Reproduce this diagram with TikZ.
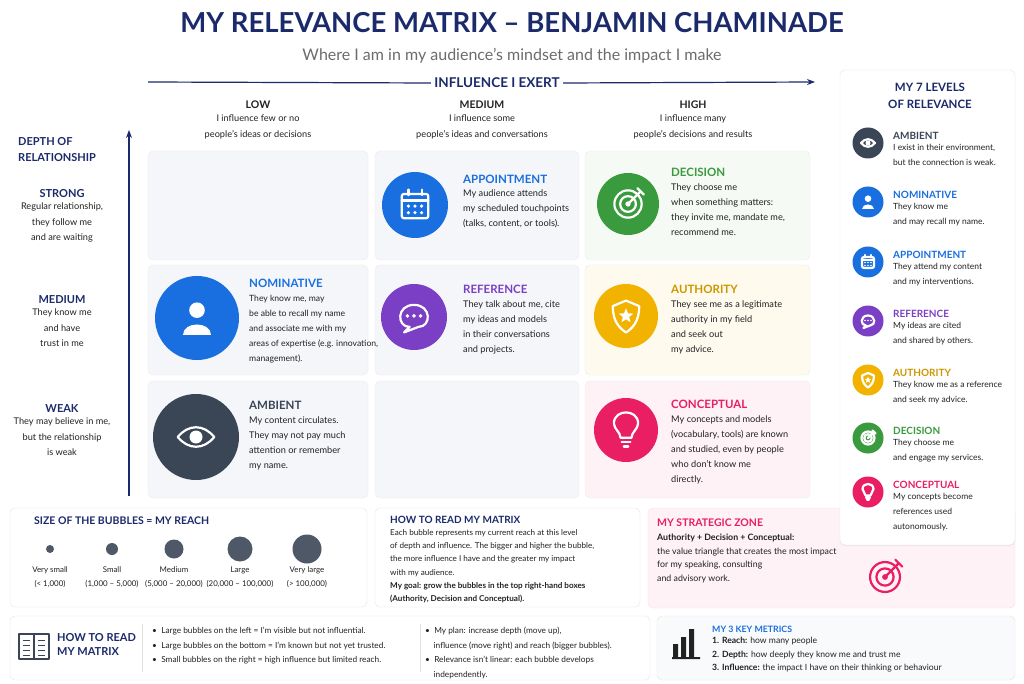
\documentclass[tikz,border=0pt]{standalone}
\usepackage{fontspec}
\setmainfont{Lato}
\usetikzlibrary{arrows.meta,shadows}
\definecolor{navy}{HTML}{1B2A6B}
\definecolor{cblue}{HTML}{1A6FE0}
\definecolor{cdark}{HTML}{3A4556}
\definecolor{cpurp}{HTML}{7B3FC6}
\definecolor{cgreen}{HTML}{3A9A3E}
\definecolor{cyel}{HTML}{F2B200}
\definecolor{cpink}{HTML}{E91E63}
\definecolor{cellbg}{HTML}{F4F6F9}
\definecolor{tgray}{HTML}{222222}
\tikzset{
 cell/.style={draw=gray!15,fill=cellbg,rounded corners=5pt},
 box/.style={draw=gray!20,fill=white,rounded corners=5pt},
 body/.style={anchor=north west,align=left,font=\fontsize{9.2}{15}\selectfont,text=tgray,inner sep=0},
 ttl/.style={anchor=west,font=\fontsize{11.5}{13}\selectfont\bfseries,inner sep=0},
 ctr/.style={align=center,font=\fontsize{9.2}{15.5}\selectfont,text=tgray,inner sep=0},
 ico/.style={circle,inner sep=0,minimum size=#1},
 wl/.style={white,line width=2.2pt,line cap=round,line join=round},
 ax/.style={navy,line width=1.2pt,-{Stealth[length=8pt,width=6pt]}},
}
\newcommand{\ieye}[2]{\begin{scope}[shift={(#1)},scale=#2]
 \draw[wl] (-14,0) .. controls (-6,-10) and (6,-10) .. (14,0) .. controls (6,10) and (-6,10) .. (-14,0);
 \fill[white] (0,0) circle (5);\end{scope}}
\newcommand{\iperson}[2]{\begin{scope}[shift={(#1)},scale=#2]
 \fill[white] (0,-6) circle (6);
 \fill[white] (-11,13) .. controls (-11,2) and (11,2) .. (11,13) -- cycle;\end{scope}}
\newcommand{\ical}[2]{\begin{scope}[shift={(#1)},scale=#2]
 \draw[wl,rounded corners=2pt] (-12,-10) rectangle (12,12);
 \draw[wl] (-12,-4)--(12,-4) (-6,-14)--(-6,-9) (6,-14)--(6,-9);
 \foreach \x in {-6,0,6}\foreach \y in {1,7}\fill[white] (\x,\y) circle (1.6);\end{scope}}
\newcommand{\ichat}[2]{\begin{scope}[shift={(#1)},scale=#2]
 \draw[wl] (0,-11) .. controls (-16,-11) and (-16,9) .. (-4,9) -- (-9,14) -- (4,9) .. controls (16,9) and (16,-11) .. (0,-11);
 \foreach \x in {-6,0,6}\fill[white] (\x,-1) circle (1.8);\end{scope}}
\newcommand{\itarget}[3]{\begin{scope}[shift={(#1)},scale=#2]
 \draw[#3,line width=2.2pt] (0,0) circle (13) (0,0) circle (7.5);\fill[#3] (0,0) circle (2.5);
 \draw[#3,line width=2.2pt,line cap=round] (0,0)--(12,-12) (9,-15)--(12,-12)--(15,-9);\end{scope}}
\newcommand{\ishield}[2]{\begin{scope}[shift={(#1)},scale=#2]
 \draw[wl] (0,-14) -- (12,-9) .. controls (12,5) and (6,11) .. (0,15) .. controls (-6,11) and (-12,5) .. (-12,-9) -- cycle;
 \fill[white] (90:-7)--(126:-3)--(162:-7)--(198:-3)--(234:-7)--(270:-3)--(306:-7)--(342:-3)--(18:-7)--(54:-3)--cycle;\end{scope}}
\newcommand{\ibulb}[2]{\begin{scope}[shift={(#1)},scale=#2]
 \draw[wl] (-5,7) .. controls (-5,2) and (-11,-1) .. (-11,-6) .. controls (-11,-13) and (-5,-16) .. (0,-16) .. controls (5,-16) and (11,-13) .. (11,-6) .. controls (11,-1) and (5,2) .. (5,7) -- cycle;
 \draw[wl] (-4,11)--(4,11) (-2,15)--(2,15);\end{scope}}
\begin{document}
\begin{tikzpicture}[x=1pt,y=-1pt]
\useasboundingbox (0,0) rectangle (1024,684);
\fill[white] (0,0) rectangle (1024,684);
% title
\node[font=\fontsize{27.5}{30}\selectfont\bfseries,text=navy] (title) at (512,23) {MY RELEVANCE MATRIX – BENJAMIN CHAMINADE};
\node[font=\fontsize{16}{18}\selectfont,text=gray!85!black] (sub) at (512,56) {Where I am in my audience’s mindset and the impact I make};
\node[font=\fontsize{13.5}{15}\selectfont\bfseries,text=navy] (infl) at (497,83) {INFLUENCE I EXERT};
\coordinate (ha) at (148,82); \coordinate (hb) at (815,82);
\draw[navy,line width=1.2pt] (ha) -- (infl.west);
\draw[ax] (infl.east) -- (hb);
% column heads
\foreach \x/\h/\d in {258/LOW/{I influence few or no\\people’s ideas or decisions},482/MEDIUM/{I influence some\\people’s ideas and conversations},693/HIGH/{I influence many\\people’s decisions and results}}{
 \node[font=\fontsize{10.5}{12}\selectfont\bfseries,text=tgray] (h\h) at (\x,105) {\h};
 \node[ctr,anchor=north] (d\h) at (\x,115) {\d};}
% vertical axis
\coordinate (va) at (129,496); \coordinate (vb) at (129,130);
\draw[ax] (va) -- (vb);
\node[anchor=north west,align=left,font=\fontsize{11}{16}\selectfont\bfseries,text=navy,inner sep=0] (dep) at (18,137) {DEPTH OF\\RELATIONSHIP};
\foreach \y/\h/\d in {194/STRONG/{Regular relationship,\\they follow me\\and are waiting},300/MEDIUM/{They know me\\and have\\trust in me},409/WEAK/{They may believe in me,\\but the relationship\\is weak}}{
 \node[font=\fontsize{11}{12}\selectfont\bfseries,text=navy] (r\h) at (62,\y) {\h};
 \node[ctr,anchor=north] (rd\h) at (62,\y+9) {\d};}
% cells
\foreach \n/\xa/\ya/\xb/\yb/\c in {a/148/151/368/260/cellbg,b/375/151/579/260/cellbg,c/585/151/810/260/cgreen!5,
 d/148/265/368/375/cellbg,e/375/265/579/375/cellbg,f/585/265/810/375/cyel!7,
 g/148/381/368/498/cellbg,h/375/381/579/498/cellbg,i/585/381/810/498/cpink!6}
 \draw[cell,fill=\c] (\xa,\ya) rectangle (\xb,\yb);
% icons
\node[ico=66pt,fill=cblue] (iapp) at (415,205) {}; \ical{iapp}{1.1}
\node[ico=62pt,fill=cgreen] (idec) at (628,204) {}; \itarget{idec}{1.05}{white}
\node[ico=84pt,fill=cblue] (inom) at (197,318) {}; \iperson{inom}{1.3}
\node[ico=66pt,fill=cpurp] (iref) at (414,317) {}; \ichat{iref}{1.1}
\node[ico=64pt,fill=cyel] (iaut) at (626,316) {}; \ishield{iaut}{1.1}
\node[ico=86pt,fill=cdark] (iamb) at (196,437) {}; \ieye{iamb}{1.3}
\node[ico=64pt,fill=cpink] (icon) at (626,430) {}; \ibulb{icon}{1.1}
% cell texts
\node[ttl,text=cblue] (tapp) at (463,179) {APPOINTMENT};
\node[body] at (463,190) {My audience attends\\my scheduled touchpoints\\(talks, content, or tools).};
\node[ttl,text=cgreen] (tdec) at (671,172) {DECISION};
\node[body] at (671,184) {They choose me\\when something matters:\\they invite me, mandate me,\\recommend me.};
\node[ttl,text=cblue] (tnom) at (249,283) {NOMINATIVE};
\node[body,font=\fontsize{8.6}{15}\selectfont] at (249,295) {They know me, may\\be able to recall my name\\and associate me with my\\areas of expertise (e.g. innovation,\\management).};
\node[ttl,text=cpurp] (tref) at (463,289) {REFERENCE};
\node[body] at (463,301) {They talk about me, cite\\my ideas and models\\in their conversations\\and projects.};
\node[ttl,text=cyel!85!black] (taut) at (671,289) {AUTHORITY};
\node[body] at (671,301) {They see me as a legitimate\\authority in my field\\and seek out\\my advice.};
\node[ttl,text=cdark] (tamb) at (249,405) {AMBIENT};
\node[body] at (249,417) {My content circulates.\\They may not pay much\\attention or remember\\my name.};
\node[ttl,text=cpink] (tcon) at (671,404) {CONCEPTUAL};
\node[body] at (671,416) {My concepts and models\\(vocabulary, tools) are known\\and studied, even by people\\who don’t know me\\directly.};
% bottom boxes
\draw[box] (10,508) rectangle (367,607);
\node[ttl,text=navy,font=\fontsize{10.5}{12}\selectfont\bfseries] (bs) at (34,521) {SIZE OF THE BUBBLES = MY REACH};
\foreach \x/\r/\a/\b in {50/4/Very small/{(< 1,000)},112/6/Small/{(1,000 – 5,000)},174/9.5/Medium/{(5,000 – 20,000)},240/12.5/Large/{(20,000 – 100,000)},307/14.5/Very large/{(> 100,000)}}{
 \fill[cdark!90] (\x,549) circle (\r);
 \node[ctr,font=\fontsize{7.9}{14}\selectfont] at (\x,577) {\a\\\b};}
\draw[box] (375,508) rectangle (640,607);
\node[ttl,text=navy,font=\fontsize{10}{12}\selectfont\bfseries] (bh) at (390,520) {HOW TO READ MY MATRIX};
\node[body,font=\fontsize{8.1}{13.3}\selectfont] at (390,529) {Each bubble represents my current reach at this level\\of depth and influence. The bigger and higher the bubble,\\the more influence I have and the greater my impact\\with my audience.\\\textbf{My goal: grow the bubbles in the top right-hand boxes}\\\textbf{(Authority, Decision and Conceptual).}};
\draw[rounded corners=5pt,draw=cpink!15,fill=cpink!6] (648,508) rectangle (1015,608);
\node[ttl,text=cpink,font=\fontsize{10.5}{12}\selectfont\bfseries] (bz) at (657,523) {MY STRATEGIC ZONE};
\node[body,font=\fontsize{8.8}{13.5}\selectfont] at (657,534) {\textbf{Authority + Decision + Conceptual:}\\the value triangle that creates the most impact\\for my speaking, consulting\\and advisory work.};
\coordinate (tz) at (885,577); \itarget{tz}{1.15}{cpink}
\draw[box] (10,616) rectangle (650,680);
\node[ttl,text=navy,font=\fontsize{11}{14}\selectfont\bfseries,align=left] (br) at (57,644) {HOW TO READ\\MY MATRIX};
\begin{scope}[shift={(34,646)}]
 \draw[cdark,line width=1.2pt,line join=round] (-15,-12) rectangle (15,13);
 \draw[cdark,line width=1.2pt] (0,-12)--(0,13);
 \foreach \y in {-6,-1,4,9}{\draw[cdark,line width=0.8pt] (-11,\y)--(-4,\y) (4,\y)--(11,\y);}
\end{scope}
\draw[gray!25] (142,624)--(142,672) (420,624)--(420,672);
\node[body,font=\fontsize{8.3}{14.5}\selectfont] at (152,627) {•\ \ Large bubbles on the left = I’m visible but not influential.\\•\ \ Large bubbles on the bottom = I’m known but not yet trusted.\\•\ \ Small bubbles on the right = high influence but limited reach.};
\node[body,font=\fontsize{8.3}{14.5}\selectfont] at (425,627) {•\ \ My plan: increase depth (move up),\\\ \ \ \ influence (move right) and reach (bigger bubbles).\\•\ \ Relevance isn’t linear: each bubble develops\\\ \ \ \ independently.};
\draw[box,fill=cellbg!60] (657,616) rectangle (1015,680);
\node[ttl,text=cblue,font=\fontsize{8.8}{10}\selectfont\bfseries] (bk) at (712,629) {MY 3 KEY METRICS};
\node[body,font=\fontsize{8.6}{13.5}\selectfont] at (712,637) {\textbf{1. Reach:} how many people\\\textbf{2. Depth:} how deeply they know me and trust me\\\textbf{3. Influence:} the impact I have on their thinking or behaviour};
\fill[tgray] (673,644) rectangle (678,657) (681,637) rectangle (686,657) (689,629) rectangle (694,657) (672,657) rectangle (700,659);
% right panel
\draw[box,drop shadow={opacity=0.12,shadow xshift=0pt,shadow yshift=-1pt}] (840,70) rectangle (1015,545);
\node[font=\fontsize{11.5}{17}\selectfont\bfseries,text=navy,align=center] (rp) at (930,96) {MY 7 LEVELS\\OF RELEVANCE};
\foreach \y/\c/\t/\tc/\d [count=\k] in {
 143/cdark/AMBIENT/cdark/{I exist in their environment,\\but the connection is weak.},
 202/cblue/NOMINATIVE/cblue/{They know me\\and may recall my name.},
 262/cblue/APPOINTMENT/cblue/{They attend my content\\and my interventions.},
 321/cpurp/REFERENCE/cpurp/{My ideas are cited\\and shared by others.},
 380/cyel/AUTHORITY/cyel!85!black/{They know me as a reference\\and seek my advice.},
 438/cgreen/DECISION/cgreen/{They choose me\\and engage my services.},
 492/cpink/CONCEPTUAL/cpink/{My concepts become\\references used\\autonomously.}}{
 \node[ico=31pt,fill=\c] (L\k) at (868,\y) {};
 \node[ttl,text=\tc,font=\fontsize{10}{12}\selectfont\bfseries] at (893,\y-7) {\t};
 \node[body,font=\fontsize{8.5}{15}\selectfont] at (893,\y+1) {\d};}
\ieye{L1}{0.5}\iperson{L2}{0.55}\ical{L3}{0.5}\ichat{L4}{0.5}\ishield{L5}{0.5}\itarget{L6}{0.5}{white}\ibulb{L7}{0.5}
\end{tikzpicture}
\end{document}
